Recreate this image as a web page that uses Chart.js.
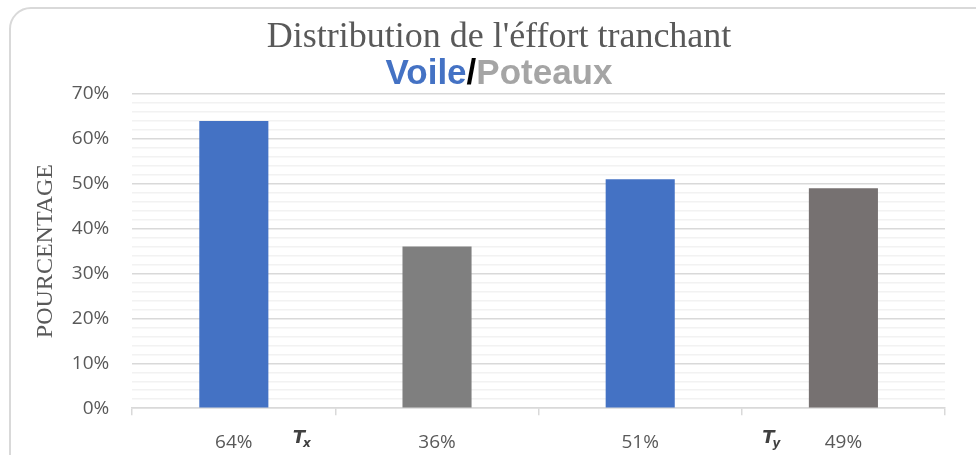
<!DOCTYPE html>
<html>
<head>
<meta charset="utf-8">
<title>Distribution de l'éffort tranchant</title>
<style>
    html, body { margin: 0; padding: 0; background: #fff; }
    #frame {
        position: absolute; left: 9px; top: 7px; width: 990px; height: 470px;
        border: 2px solid #d9d9d9; border-radius: 22px; box-sizing: border-box;
    }
    #wrap { position: absolute; left: 0; top: 0; width: 976px; height: 455px; }
</style>
<script src="https://cdn.jsdelivr.net/npm/chart.js@4/dist/chart.umd.min.js"></script>
</head>
<body>
<div id="frame"></div>
<div id="wrap"><canvas id="shearChart"></canvas></div>
<script>
// Shear force split between walls (voile) and columns (poteaux), per direction
const elements = ["Voile", "Poteaux", "Voile", "Poteaux"];
const shares = [64, 36, 51, 49];
const barColors = ["#4472C4", "#7F7F7F", "#4472C4", "#767171"];
const directions = ["x", "y"];
const tickLabels = shares.map((v) => v + "%");

const titleText = "Distribution de l'éffort tranchant";
const subtitleParts = [
    { text: "Voile", color: "#4472C4" },
    { text: "/", color: "#000000" },
    { text: "Poteaux", color: "#A5A5A5" },
];

// Heading: title plus the two-colour subtitle
const headingPlugin = {
    id: "heading",
    afterDraw(chart) {
        const ctx = chart.ctx;
        const cx = 499;
        ctx.save();
        ctx.textBaseline = "alphabetic";
        ctx.textAlign = "center";
        ctx.fillStyle = "#595959";
        ctx.font = '36px "Liberation Serif"';
        ctx.fillText(titleText, cx, 47);

        ctx.font = 'bold 35px "Liberation Sans"';
        ctx.textAlign = "left";
        const total = subtitleParts.reduce((w, p) => w + ctx.measureText(p.text).width, 0);
        let x = cx - total / 2;
        subtitleParts.forEach((p) => {
            ctx.fillStyle = p.color;
            ctx.fillText(p.text, x, 84);
            x += ctx.measureText(p.text).width;
        });
        ctx.restore();
    },
};

// T_x / T_y markers under each pair of bars
const directionPlugin = {
    id: "directionLabels",
    afterDraw(chart) {
        const xs = chart.scales.x;
        const ctx = chart.ctx;
        const anchors = [0.29, 2.6];
        ctx.save();
        ctx.fillStyle = "#404040";
        ctx.textBaseline = "alphabetic";
        ctx.textAlign = "left";
        directions.forEach((d, i) => {
            const x = xs.getPixelForValue(anchors[i]);
            const y = xs.top + 35;
            ctx.font = 'italic bold 18px "DejaVu Sans"';
            ctx.fillText("T", x, y);
            const w = ctx.measureText("T").width;
            ctx.font = 'italic bold 12px "DejaVu Sans"';
            ctx.fillText(d, x + w - 2, y + 4);
        });
        ctx.restore();
    },
};

const ctx = document.getElementById("shearChart").getContext("2d");
new Chart(ctx, {
    type: "bar",
    data: {
        labels: tickLabels,
        datasets: [
            {
                label: "Effort tranchant",
                data: shares,
                backgroundColor: barColors,
                barPercentage: 0.34,
                categoryPercentage: 1.0,
            },
        ],
    },
    options: {
        responsive: true,
        maintainAspectRatio: false,
        animation: false,
        devicePixelRatio: 1,
        layout: {
            padding: { top: 94, right: 31, bottom: -15, left: 28 },
        },
        plugins: {
            legend: { display: false },
            tooltip: { enabled: false },
            title: { display: false },
        },
        scales: {
            x: {
                grid: {
                    offset: true,
                    drawOnChartArea: false,
                    tickLength: 7,
                    color: "#d9d9d9",
                    lineWidth: 1.5,
                },
                border: { color: "#d9d9d9", width: 1.5 },
                ticks: {
                    padding: 16,
                    color: "#595959",
                    font: { family: "Open Sans", size: 19 },
                },
            },
            y: {
                min: 0,
                max: 70,
                border: { display: false },
                grid: {
                    drawTicks: false,
                    lineWidth: 1.5,
                    color: (c) =>
                        c.tick && Math.round(c.tick.value) % 10 === 0 ? "#d9d9d9" : "#f2f2f2",
                },
                ticks: {
                    stepSize: 2,
                    autoSkip: false,
                    padding: 23,
                    color: "#595959",
                    font: { family: "Open Sans", size: 19 },
                    callback: (v) => (Math.round(v) % 10 === 0 ? v + "%" : ""),
                },
                title: {
                    display: true,
                    text: "POURCENTAGE",
                    color: "#595959",
                    font: { family: "Liberation Serif", size: 24 },
                    padding: { top: 3, bottom: -11 },
                },
            },
        },
    },
    plugins: [headingPlugin, directionPlugin],
});
</script>
</body>
</html>
